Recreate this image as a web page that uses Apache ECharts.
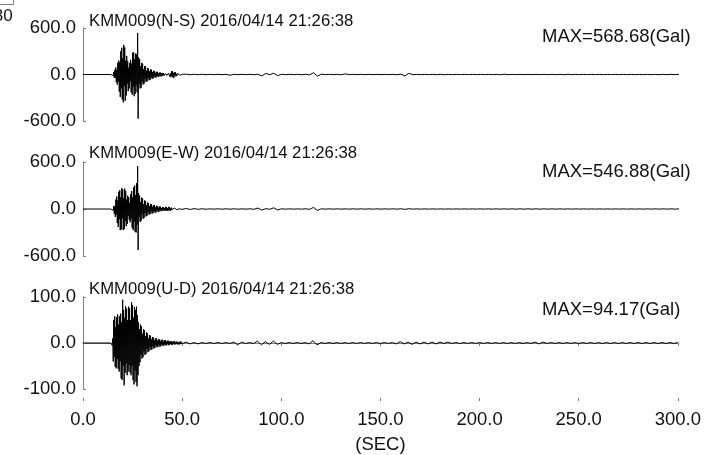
<!DOCTYPE html>
<html><head><meta charset="utf-8">
<script src="https://cdn.jsdelivr.net/npm/echarts@6/dist/echarts.min.js"></script>
<style>html,body{margin:0;padding:0;background:#fff}#c{width:704px;height:455px}</style>
</head><body><div id="c"></div>
<script>
// ---- data ----
const stationTitles = ['KMM009(N-S) 2016/04/14 21:26:38','KMM009(E-W) 2016/04/14 21:26:38','KMM009(U-D) 2016/04/14 21:26:38'];
const maxLabels = ['MAX=568.68(Gal)','MAX=546.88(Gal)','MAX=94.17(Gal)'];
const yRanges = [600, 600, 100];
const xTickValues = [0, 50, 100, 150, 200, 250, 300];
const xAxisName = '(SEC)';

// strong-motion part: samples every 0.25 s starting at 14.0 s (Gal)
const strongStart = 14, strongStep = 0.25;
const nsStrong = [0,-1,1,-2,3,
  -15,30,-45,60, -40,90,-100,60, -130,150,-90,180, -220,160,-290,300,
  -180,345,-320,210, -360,383,-150,350, -340,180,-270,240, -120,170,-215,90,
  -180,150,-90,190, -230,140,-260,280, -160,285,-280,200, -250,270,-140,260,
  -230,536,-568.68,220, -120,200,-180,110, -170,150,-90,140, -130,70,-120,110,
  -60,105,-95,50, -90,85,-45,80, -75,40,-70,65, -35,62,-55,30,
  -52,48,-25,45, -40,22,-38,35, -18,34,-30,15, -28,26,-14,25,
  -24,12,-22,20, -10,18,-16,8, -15,14,-7,13, -12,8,-14,16,
  -8,22,-28,12, -35,40,-15,45, -38,20,-42,30, -12,28,-24,8,
  -18,15,-6,12, -10,5,-9,7, -4,6,-5,3];
const ewStrong = [0,-1,1,-2,3,
  -20,40,-60,30, -100,120,-70,160, -180,110,-230,220, -130,240,-270,150,
  -260,268,-120,250, -270,140,-255,260, -150,230,-220,120, -190,170,-90,150,
  -140,80,-170,190, -120,230,-240,150, -270,280,-160,300, -290,180,-300,330,
  -200,546.88,-523,200, -100,170,-165,90, -150,145,-70,135, -125,60,-115,110,
  -50,100,-95,45, -86,82,-40,76, -72,35,-66,64, -30,60,-58,28,
  -54,52,-24,48, -46,20,-44,42, -18,38,-36,16, -34,32,-14,30,
  -28,12,-26,25, -10,23,-22,10, -26,28,-12,24, -22,10,-26,27,
  -12,24,-22,9, -19,18,-8,16, -15,7,-13,12, -6,11,-10,5,
  -9,9,-4,8, -7,4,-6,6, -3,5,-5,2];
const udStrong = [0,-1,2,-5,10,
  -40,50,-30,58, -52,35,-55,56, -35,62,-56,40, -62,58,-40,64,
  -77,45,-80,94.17, -50,72,-92,55, -65,80,-45,75, -70,50,-62,79,
  -48,76,-64,50, -70,89,-50,82, -81,55,-90,78, -60,72,-85,79,
  -94,60,-70,45, -50,30,-42,40, -25,36,-34,20, -31,30,-18,28,
  -26,15,-24,23, -12,21,-20,10, -18,17,-9,16, -15,8,-14,13,
  -7,12,-12,6, -11,10,-5,10, -9,5,-9,8, -4,8,-8,4,
  -7,7,-3,7, -6,3,-6,6, -3,6,-5,3, -5,5,-2,5,
  -5,3,-4,4, -2,4,-4,2, -4,4,-2,4, -3,2,-3,3,
  -2,3,-3,2, -3,2,-3,3, -2,3,-2,2];

// coda / tail: samples every 2 s starting at 52 s (Gal)
const tailStart = 52, tailStep = 2;
const nsTail = [4,-3,3,-2,3,-2,2,-2,2,-2,3,-10,3,-2,2,-2,2,-3,4,-18,14,-3,16,-14,3,
  -2,2,-2,2,-3,3,-5,22,-20,4,-2,2,-2,2,-3,9,-2,2,-2,2,-2,2,-2,2,-2,
  2,-2,2,-3,5,-18,15,-3,2,-2,2,-2,2,-2,3,-3,2,-2,2,-2,2,-2,2,-2,2,
  -2,2,-2,2,-4,4,-2,2,-2,2,-2,2,-2,2,-2,2,-2,2,-2,2,-3,3,-2,2,-2,
  2,-2,2,-2,2,-2,2,-2,2,-2,2,-2,2,-2,2,-2,2,-2,2,-2,2,-2,2,-2,2];
const ewTail = [7,-6,5,-4,3,-3,2,-2,2,-2,2,-2,2,-2,2,-2,3,-4,12,-14,4,-3,15,-12,3,
  -2,2,-2,2,-2,3,-4,20,-18,3,-2,2,-2,2,-2,2,-2,2,-2,2,-2,2,-2,2,-2,
  2,-2,2,-2,3,-5,4,-2,2,-2,2,-2,2,-2,2,-2,2,-2,2,-2,2,-2,2,-2,2,
  -2,2,-2,2,-2,2,-2,2,-2,2,-2,2,-2,2,-2,2,-2,2,-2,2,-2,2,-2,2,-2,
  2,-2,2,-2,2,-2,2,-2,2,-2,2,-2,2,-2,2,-2,2,-2,2,-2,2,-2,2,-2,2];
const udTail = [2,-2,1,-2,1,-1,1,-1,1,-1,1,-1,2,-4,2,-1,1,-1,4,-4,3,-3,4,-3,1,
  -1,1,-1,1,-1,1,-2,5,-4,1,-1,1,-1,1,-1,1,-1,1,-1,1,-1,1,-1,1,-1,
  1,-1,1,-2,3,-2,2,-3,2,-2,2,-2,2,-2,2,-1,2,-1,1,-1,1,-1,1,-1,1,
  -1,1,-1,1,-1,1,-1,1,-1,1,-1,1,-1,2,-2,2,-1,1,-1,1,-1,1,-1,1,-1,
  1,-1,1,-1,1,-1,1,-1,1,-1,1,-1,1,-1,1,-1,1,-1,1,-1,1,-1,1,-1,1];

// ---- build ----
function build(strong, tail){
  const d = [[0,0]];
  strong.forEach((v,i)=>d.push([strongStart + i*strongStep, v]));
  tail.forEach((v,j)=>d.push([tailStart + j*tailStep, v]));
  return d;
}
const comps = [build(nsStrong, nsTail), build(ewStrong, ewTail), build(udStrong, udTail)];

const FONT = '"Liberation Sans", Arial, Helvetica, sans-serif';
const TXT = '#111';
const AX = '#808080';
const grids = [
  {left:83, right:25, top:28, height:93},
  {left:83, right:25, top:162, height:94},
  {left:83, right:25, top:297, height:94}
];
const fmt = v => Number(v).toFixed(1);

const xAxes = [
  {gridIndex:0, type:'value', min:0, max:300, show:false},
  {gridIndex:1, type:'value', min:0, max:300, show:false},
  {gridIndex:2, type:'value', min:0, max:300, interval:50, position:'bottom', offset:12,
    axisLine:{show:true, lineStyle:{color:AX, width:1}},
    axisTick:{show:true, length:3, lineStyle:{color:AX}},
    axisLabel:{formatter:fmt, fontSize:18.5, color:TXT, fontFamily:FONT, margin:9,
      customValues: xTickValues},
    splitLine:{show:false},
    name:xAxisName, nameLocation:'middle', nameGap:34,
    nameTextStyle:{fontSize:18.5, color:TXT, fontFamily:FONT}},
  {gridIndex:2, type:'value', min:0, max:300, interval:50, position:'bottom', offset:12,
    axisLine:{show:false}, axisLabel:{show:false}, splitLine:{show:false},
    axisTick:{show:true, inside:true, length:3, lineStyle:{color:AX}}}
];
const yAxes = yRanges.map((r,i)=>({
  gridIndex:i, type:'value', min:-r, max:r, interval:r,
  axisLine:{show:true, lineStyle:{color:AX, width:1}},
  axisTick:{show:true, inside:true, length:3, lineStyle:{color:AX}},
  axisLabel:{formatter:fmt, fontSize:18.5, color:TXT, fontFamily:FONT, margin:7},
  splitLine:{show:false}
}));
const series = comps.map((d,i)=>({
  type:'line', xAxisIndex:i, yAxisIndex:i, data:d, showSymbol:false, symbol:'none',
  sampling:null, silent:true, animation:false,
  lineStyle:{color:'#000', width:1}
}));

const titleY = [21.3, 153.3, 289.5];
const maxY = [36.7, 171.5, 310];
const graphics = [];
stationTitles.forEach((t,i)=>graphics.push({type:'text', x:89, y:titleY[i], silent:true,
  style:{text:t, fill:TXT, font:'16.7px '+FONT, align:'left', verticalAlign:'middle'}}));
maxLabels.forEach((t,i)=>graphics.push({type:'text', x:542, y:maxY[i], silent:true,
  style:{text:t, fill:TXT, font:'18.5px '+FONT, align:'left', verticalAlign:'middle'}}));
// clipped remnant at top-left corner
graphics.push({type:'text', x:12.7, y:16.5, silent:true,
  style:{text:'30', fill:TXT, font:'17px '+FONT, align:'right', verticalAlign:'middle'}});
graphics.push({type:'polyline', silent:true, shape:{points:[[0,4.5],[13.5,4.5],[13.5,0]]},
  style:{stroke:AX, lineWidth:1, fill:null}});

const chart = echarts.init(document.getElementById('c'), null, {renderer:'canvas'});
chart.setOption({
  animation:false,
  backgroundColor:'#fff',
  grid:grids, xAxis:xAxes, yAxis:yAxes, series:series, graphic:graphics
});
</script></body></html>
